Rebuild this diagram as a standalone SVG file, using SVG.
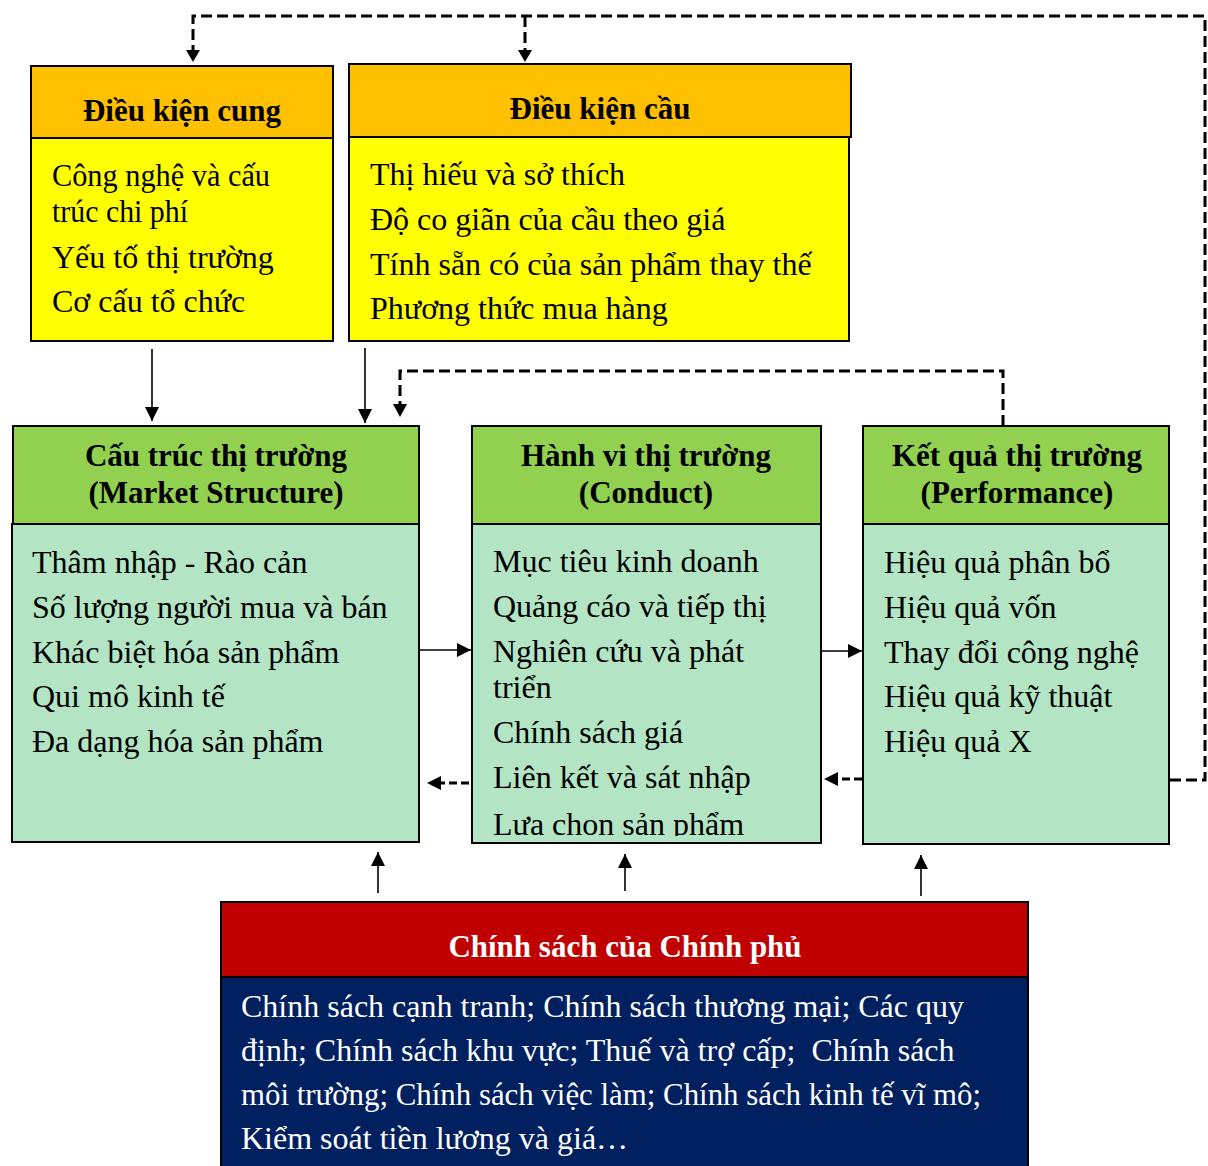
<svg xmlns="http://www.w3.org/2000/svg" width="1208" height="1166" viewBox="0 0 1208 1166">
  <style>
    .box { stroke: #000; stroke-width: 2; }
    .t { font-family: "Liberation Serif", "Times New Roman", serif; font-size: 32px; fill: #000; }
    .h { font-family: "Liberation Serif", "Times New Roman", serif; font-size: 31px; font-weight: bold; fill: #000; text-anchor: middle; }
    .w { fill: #fff; }
    .solid { stroke: #000; stroke-width: 1.6; fill: none; }
    .dash { stroke: #000; stroke-width: 3; fill: none; stroke-dasharray: 11 5; }
  </style>
  <defs>
    <marker id="arrowB" viewBox="0 0 10 10" refX="10" refY="5" markerWidth="14" markerHeight="14" markerUnits="userSpaceOnUse" orient="auto">
      <path d="M0,0 L10,5 L0,10 z" fill="#000"/>
    </marker>
    <clipPath id="clipConduct">
      <rect x="473" y="525" width="347" height="311"/>
    </clipPath>
  </defs>

  <!-- Supply conditions -->
  <g id="supply">
    <rect class="box" x="31" y="66" width="302" height="72" fill="#FFC000"/>
    <rect class="box" x="31" y="138" width="302" height="203" fill="#FFFF00"/>
    <text class="h" x="182" y="121">Điều kiện cung</text>
    <text class="t" x="52" y="186" textLength="218" lengthAdjust="spacingAndGlyphs">Công nghệ và cấu</text>
    <text class="t" x="52" y="222" textLength="136" lengthAdjust="spacingAndGlyphs">trúc chi phí</text>
    <text class="t" x="52" y="268">Yếu tố thị trường</text>
    <text class="t" x="52" y="312">Cơ cấu tổ chức</text>
  </g>

  <!-- Demand conditions -->
  <g id="demand">
    <rect class="box" x="349" y="64" width="502" height="73" fill="#FFC000"/>
    <rect class="box" x="349" y="137" width="500" height="204" fill="#FFFF00"/>
    <text class="h" x="600" y="119">Điều kiện cầu</text>
    <text class="t" x="370" y="185">Thị hiếu và sở thích</text>
    <text class="t" x="370" y="230">Độ co giãn của cầu theo giá</text>
    <text class="t" x="370" y="275">Tính sẵn có của sản phẩm thay thế</text>
    <text class="t" x="370" y="319">Phương thức mua hàng</text>
  </g>

  <!-- Market structure -->
  <g id="structure">
    <rect class="box" x="13" y="426" width="406" height="98" fill="#92D050"/>
    <rect class="box" x="12" y="524" width="407" height="318" fill="#B3E4C3"/>
    <text class="h" x="216" y="466">Cấu trúc thị trường</text>
    <text class="h" x="216" y="503">(Market Structure)</text>
    <text class="t" x="32" y="573">Thâm nhập - Rào cản</text>
    <text class="t" x="32" y="618">Số lượng người mua và bán</text>
    <text class="t" x="32" y="663">Khác biệt hóa sản phẩm</text>
    <text class="t" x="32" y="707">Qui mô kinh tế</text>
    <text class="t" x="32" y="752">Đa dạng hóa sản phẩm</text>
  </g>

  <!-- Conduct -->
  <g id="conduct">
    <rect class="box" x="472" y="426" width="349" height="98" fill="#92D050"/>
    <rect class="box" x="472" y="524" width="349" height="319" fill="#B3E4C3"/>
    <text class="h" x="646" y="466">Hành vi thị trường</text>
    <text class="h" x="646" y="503">(Conduct)</text>
    <g clip-path="url(#clipConduct)">
      <text class="t" x="493" y="572">Mục tiêu kinh doanh</text>
      <text class="t" x="493" y="617">Quảng cáo và tiếp thị</text>
      <text class="t" x="493" y="662">Nghiên cứu và phát</text>
      <text class="t" x="493" y="698">triển</text>
      <text class="t" x="493" y="743">Chính sách giá</text>
      <text class="t" x="493" y="788">Liên kết và sát nhập</text>
      <text class="t" x="493" y="835">Lựa chọn sản phẩm</text>
    </g>
  </g>

  <!-- Performance -->
  <g id="performance">
    <rect class="box" x="863" y="426" width="306" height="98" fill="#92D050"/>
    <rect class="box" x="863" y="524" width="306" height="320" fill="#B3E4C3"/>
    <text class="h" x="1017" y="466">Kết quả thị trường</text>
    <text class="h" x="1017" y="503">(Performance)</text>
    <text class="t" x="884" y="573">Hiệu quả phân bổ</text>
    <text class="t" x="884" y="618">Hiệu quả vốn</text>
    <text class="t" x="884" y="663">Thay đổi công nghệ</text>
    <text class="t" x="884" y="707">Hiệu quả kỹ thuật</text>
    <text class="t" x="884" y="752">Hiệu quả X</text>
  </g>

  <!-- Government policy -->
  <g id="policy">
    <rect class="box" x="221" y="902" width="807" height="75" fill="#C00000"/>
    <rect class="box" x="221" y="977" width="807" height="192" fill="#002060"/>
    <text class="h w" x="625" y="957">Chính sách của Chính phủ</text>
    <text class="t w" x="241" y="1017">Chính sách cạnh tranh; Chính sách thương mại; Các quy</text>
    <text class="t w" x="241" y="1061" xml:space="preserve">định; Chính sách khu vực; Thuế và trợ cấp;  Chính sách</text>
    <text class="t w" x="241" y="1105" textLength="740" lengthAdjust="spacingAndGlyphs">môi trường; Chính sách việc làm; Chính sách kinh tế vĩ mô;</text>
    <text class="t w" x="241" y="1149">Kiểm soát tiền lương và giá…</text>
  </g>

  <!-- Connectors -->
  <g id="connectors">
    <!-- feedback from performance to supply and demand -->
    <path class="dash" d="M1170,780 H1205 V16 H193 V52"/>
    <path class="dash" d="M525,16 V52"/>
    <path d="M186,50 L200,50 L193,62 z" fill="#000"/>
    <path d="M518,50 L532,50 L525,62 z" fill="#000"/>
    <!-- feedback from performance to structure -->
    <path class="dash" d="M1003,426 V371 H400 V406"/>
    <path d="M393,404 L407,404 L400,417 z" fill="#000"/>
    <!-- supply/demand into structure -->
    <line class="solid" x1="152" y1="349" x2="152" y2="421" marker-end="url(#arrowB)"/>
    <line class="solid" x1="365" y1="348" x2="365" y2="423" marker-end="url(#arrowB)"/>
    <!-- structure -> conduct -> performance -->
    <line class="solid" x1="420" y1="650" x2="471" y2="650" marker-end="url(#arrowB)"/>
    <line class="solid" x1="822" y1="651" x2="862" y2="651" marker-end="url(#arrowB)"/>
    <!-- dashed feedback arrows -->
    <path class="dash" d="M469,783 H440" style="stroke-dasharray: 8 4"/>
    <path d="M441,776 L441,790 L427,783 z" fill="#000"/>
    <path class="dash" d="M862,779 H836" style="stroke-dasharray: 8 4"/>
    <path d="M838,772 L838,786 L824,779 z" fill="#000"/>
    <!-- policy into each stage -->
    <line class="solid" x1="378" y1="893" x2="378" y2="852" marker-end="url(#arrowB)"/>
    <line class="solid" x1="625" y1="891" x2="625" y2="854" marker-end="url(#arrowB)"/>
    <line class="solid" x1="921" y1="896" x2="921" y2="855" marker-end="url(#arrowB)"/>
  </g>
</svg>
